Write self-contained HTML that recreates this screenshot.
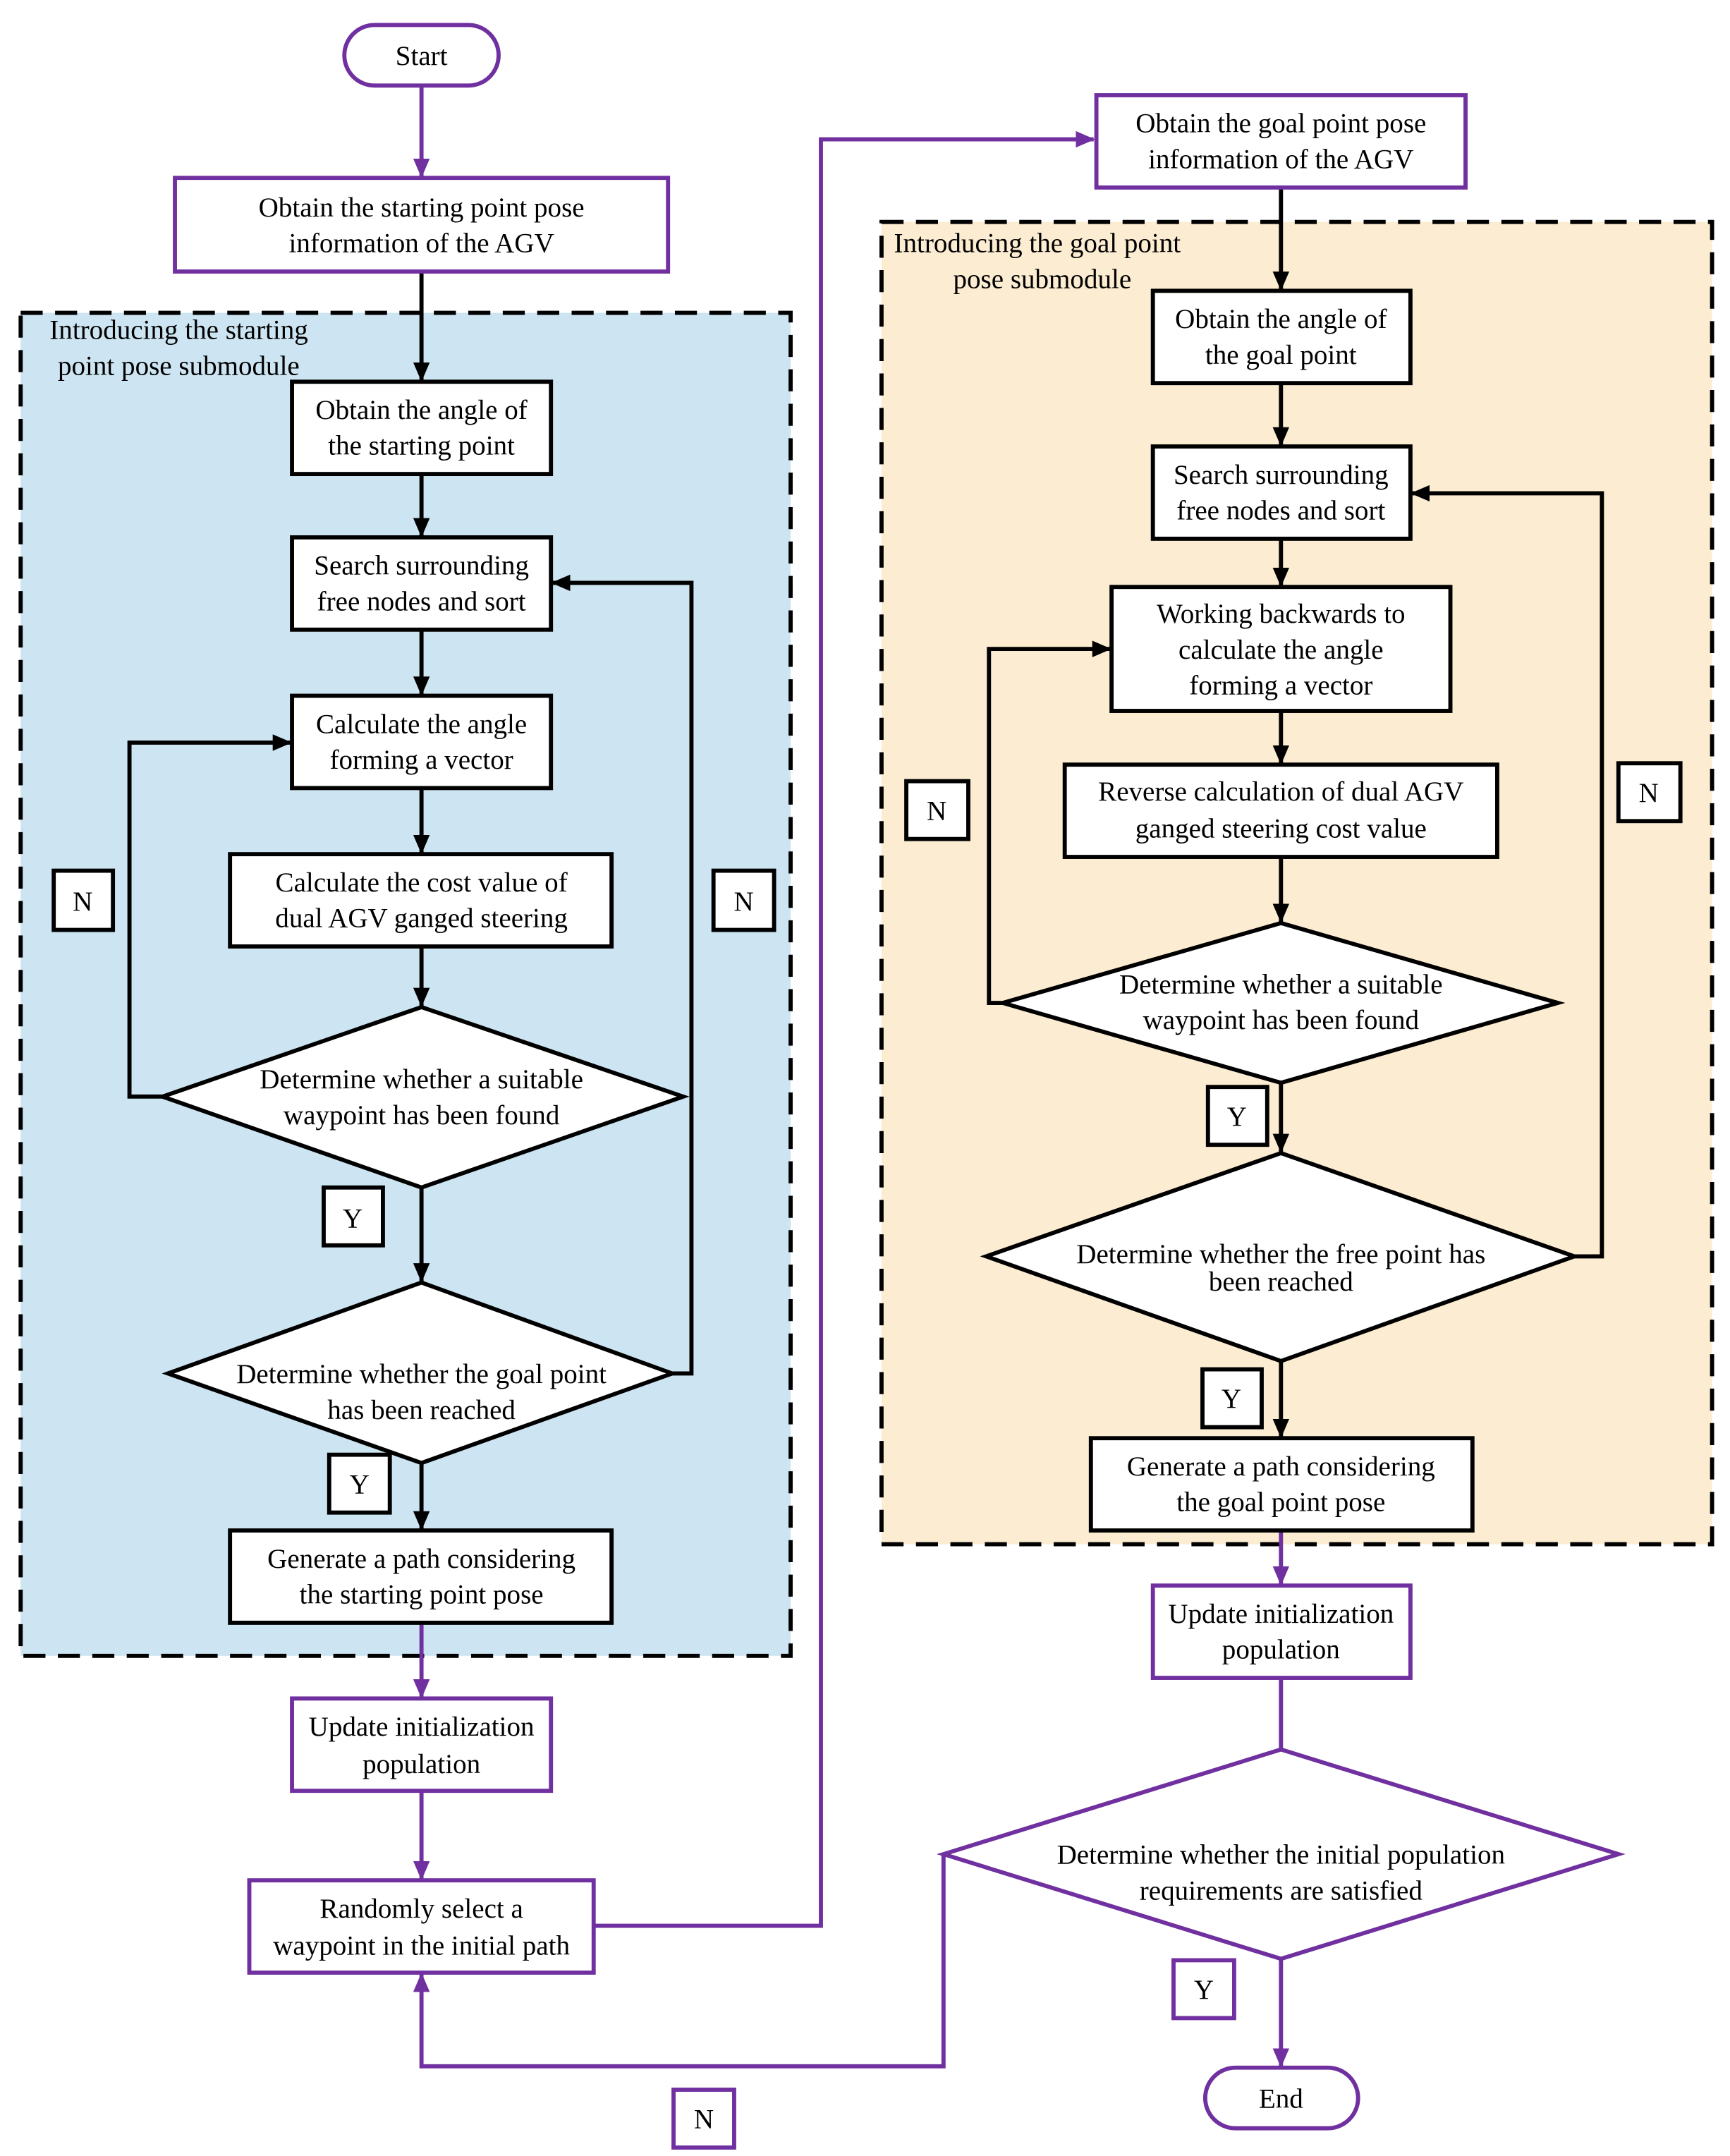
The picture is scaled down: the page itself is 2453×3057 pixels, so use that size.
<!DOCTYPE html>
<html><head><style>html,body{margin:0;padding:0;background:#fff}svg{display:block}</style></head>
<body>
<svg width="2453" height="3057" viewBox="0 0 1256 1565" xmlns="http://www.w3.org/2000/svg" style="font-family:'Liberation Serif',serif" font-size="20" text-anchor="middle">
<defs>
<marker id="ab" markerWidth="14" markerHeight="12" refX="13" refY="6" orient="auto" markerUnits="userSpaceOnUse" viewBox="0 0 14 12"><path d="M0,0 L14,6 L0,12 z" fill="#000"/></marker>
<marker id="ap" markerWidth="14" markerHeight="12" refX="13" refY="6" orient="auto" markerUnits="userSpaceOnUse" viewBox="0 0 14 12"><path d="M0,0 L14,6 L0,12 z" fill="#7030a0"/></marker>
</defs>
<rect x="15" y="227" width="559" height="975" fill="#cde5f2" stroke="#000" stroke-width="3" stroke-dasharray="16,9"/>
<rect x="640" y="161" width="603" height="960" fill="#fcecd1" stroke="#000" stroke-width="3" stroke-dasharray="16,9"/>
<g text-anchor="start"><text x="36" y="246">Introducing the starting</text><text x="42" y="272">point pose submodule</text>
<text x="649" y="183">Introducing the goal point</text><text x="692" y="209">pose submodule</text></g>

<g stroke="#000" stroke-width="3" fill="none">
<line x1="306" y1="197" x2="306" y2="276" marker-end="url(#ab)"/>
<line x1="306" y1="344" x2="306" y2="389" marker-end="url(#ab)"/>
<line x1="306" y1="457" x2="306" y2="504" marker-end="url(#ab)"/>
<line x1="306" y1="572" x2="306" y2="619" marker-end="url(#ab)"/>
<line x1="306" y1="687" x2="306" y2="730" marker-end="url(#ab)"/>
<line x1="306" y1="862" x2="306" y2="930" marker-end="url(#ab)"/>
<line x1="306" y1="1062" x2="306" y2="1110" marker-end="url(#ab)"/>
<polyline points="118,796 94,796 94,539 211,539" marker-end="url(#ab)"/>
<polyline points="488,997 502,997 502,423 401,423" marker-end="url(#ab)"/>
<line x1="930" y1="136" x2="930" y2="210" marker-end="url(#ab)"/>
<line x1="930" y1="278" x2="930" y2="323" marker-end="url(#ab)"/>
<line x1="930" y1="391" x2="930" y2="425" marker-end="url(#ab)"/>
<line x1="930" y1="516" x2="930" y2="554" marker-end="url(#ab)"/>
<line x1="930" y1="622" x2="930" y2="669" marker-end="url(#ab)"/>
<line x1="930" y1="786" x2="930" y2="836" marker-end="url(#ab)"/>
<line x1="930" y1="988" x2="930" y2="1043" marker-end="url(#ab)"/>
<polyline points="728,728 718,728 718,471 806,471" marker-end="url(#ab)"/>
<polyline points="1143,912 1163,912 1163,358 1025,358" marker-end="url(#ab)"/>
</g>
<g stroke="#7030a0" stroke-width="3" fill="none">
<line x1="306" y1="62" x2="306" y2="128" marker-end="url(#ap)"/>
<line x1="306" y1="1178" x2="306" y2="1232" marker-end="url(#ap)"/>
<line x1="306" y1="1300" x2="306" y2="1364" marker-end="url(#ap)"/>
<polyline points="431,1398 596,1398 596,101 794,101" marker-end="url(#ap)"/>
<line x1="930" y1="1111" x2="930" y2="1150" marker-end="url(#ap)"/>
<line x1="930" y1="1218" x2="930" y2="1269"/>
<line x1="930" y1="1422" x2="930" y2="1500" marker-end="url(#ap)"/>
<polyline points="685,1346 685,1500 306,1500 306,1433" marker-end="url(#ap)"/>
</g>

<g fill="#fff" stroke="#000" stroke-width="3">
<rect x="212" y="277" width="188" height="67"/>
<rect x="212" y="390" width="188" height="67"/>
<rect x="212" y="505" width="188" height="67"/>
<rect x="167" y="620" width="277" height="67"/>
<polygon points="118,796 306,731 496,796 306,862"/>
<polygon points="122,997 306,931 488,997 306,1062"/>
<rect x="167" y="1111" width="277" height="67"/>
<rect x="39" y="632" width="43" height="43"/>
<rect x="518" y="632" width="44" height="43"/>
<rect x="235" y="862" width="43" height="42"/>
<rect x="239" y="1056" width="44" height="42"/>
<rect x="837" y="211" width="187" height="67"/>
<rect x="837" y="324" width="187" height="67"/>
<rect x="807" y="426" width="246" height="90"/>
<rect x="773" y="555" width="314" height="67"/>
<polygon points="728,728 930,670 1131,728 930,786"/>
<polygon points="716,912 930,837 1143,912 930,988"/>
<rect x="792" y="1044" width="277" height="67"/>
<rect x="658" y="567" width="45" height="42"/>
<rect x="1175" y="554" width="45" height="42"/>
<rect x="877" y="789" width="43" height="42"/>
<rect x="873" y="994" width="43" height="42"/>
</g>
<g fill="#fff" stroke="#7030a0" stroke-width="3">
<rect x="250" y="18" width="112" height="44" rx="22"/>
<rect x="127" y="129" width="358" height="68"/>
<rect x="212" y="1233" width="188" height="67"/>
<rect x="181" y="1365" width="250" height="67"/>
<rect x="796" y="69" width="268" height="67"/>
<rect x="837" y="1151" width="187" height="67"/>
<polygon points="685,1346 930,1270 1175,1346 930,1422"/>
<rect x="852" y="1423" width="44" height="42"/>
<rect x="875" y="1501" width="111" height="44" rx="22"/>
<rect x="489" y="1517" width="44" height="42"/>
</g>

<g fill="#000">
<text x="306" y="47">Start</text>
<text x="306" y="157">Obtain the starting point pose</text><text x="306" y="183">information of the AGV</text>
<text x="306" y="304">Obtain the angle of</text><text x="306" y="330">the starting point</text>
<text x="306" y="417">Search surrounding</text><text x="306" y="443">free nodes and sort</text>
<text x="306" y="532">Calculate the angle</text><text x="306" y="558">forming a vector</text>
<text x="306" y="647">Calculate the cost value of</text><text x="306" y="673">dual AGV ganged steering</text>
<text x="306" y="790">Determine whether a suitable</text><text x="306" y="816">waypoint has been found</text>
<text x="306" y="1004">Determine whether the goal point</text><text x="306" y="1030">has been reached</text>
<text x="306" y="1138">Generate a path considering</text><text x="306" y="1164">the starting point pose</text>
<text x="306" y="1260">Update initialization</text><text x="306" y="1287">population</text>
<text x="306" y="1392">Randomly select a</text><text x="306" y="1419">waypoint in the initial path</text>
<text x="60" y="661">N</text><text x="540" y="661">N</text><text x="256" y="891">Y</text><text x="261" y="1084">Y</text>
<text x="930" y="96">Obtain the goal point pose</text><text x="930" y="122">information of the AGV</text>
<text x="930" y="238">Obtain the angle of</text><text x="930" y="264">the goal point</text>
<text x="930" y="351">Search surrounding</text><text x="930" y="377">free nodes and sort</text>
<text x="930" y="452">Working backwards to</text><text x="930" y="478">calculate the angle</text><text x="930" y="504">forming a vector</text>
<text x="930" y="581">Reverse calculation of dual AGV</text><text x="930" y="608">ganged steering cost value</text>
<text x="930" y="721">Determine whether a suitable</text><text x="930" y="747">waypoint has been found</text>
<text x="930" y="917">Determine whether the  free point has</text><text x="930" y="937">been reached</text>
<text x="930" y="1071">Generate a path considering</text><text x="930" y="1097">the goal point pose</text>
<text x="930" y="1178">Update initialization</text><text x="930" y="1204">population</text>
<text x="930" y="1353">Determine whether the initial population</text><text x="930" y="1379">requirements are satisfied</text>
<text x="680" y="595">N</text><text x="1197" y="582">N</text><text x="898" y="817">Y</text><text x="894" y="1022">Y</text>
<text x="874" y="1451">Y</text><text x="930" y="1530">End</text><text x="511" y="1545">N</text>
</g>
</svg>
</body></html>
